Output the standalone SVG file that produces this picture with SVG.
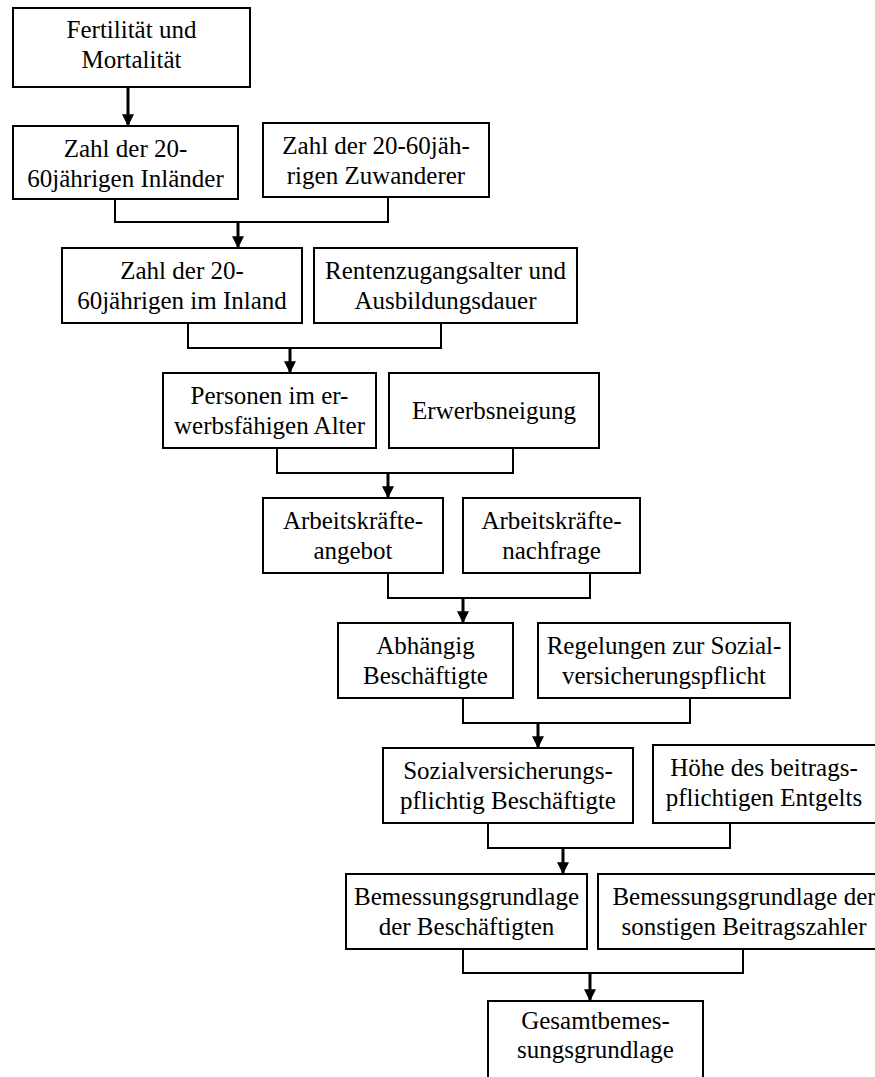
<svg xmlns="http://www.w3.org/2000/svg" width="875" height="1077" viewBox="0 0 875 1077">
<style>
.box{fill:#fff;stroke:#000;stroke-width:2}
text{font-family:'Liberation Serif','Times New Roman',Times,'DejaVu Serif',serif;font-size:25px;fill:#000;text-anchor:middle}
.c{fill:none;stroke:#000;stroke-width:2}
.a{fill:none;stroke:#000;stroke-width:3}
</style>
<defs>
<marker id="ah" markerWidth="4" markerHeight="4" refX="3.6" refY="2" orient="auto" markerUnits="strokeWidth">
<path d="M0,0 L4,2 L0,4 z" fill="#000"/>
</marker>
</defs>
<rect width="875" height="1077" fill="#fff"/>
<g id="connectors">
<path class="a" d="M128,87 V125" marker-end="url(#ah)"/>
<path class="c" d="M115,199 V222 H388 V197"/>
<path class="a" d="M238,222 V247" marker-end="url(#ah)"/>
<path class="c" d="M188,323 V348 H441 V323"/>
<path class="a" d="M290,348 V372" marker-end="url(#ah)"/>
<path class="c" d="M277,448 V473 H513 V448"/>
<path class="a" d="M388,473 V497" marker-end="url(#ah)"/>
<path class="c" d="M388,573 V598 H590 V573"/>
<path class="a" d="M463,598 V622" marker-end="url(#ah)"/>
<path class="c" d="M463,698 V723 H690 V698"/>
<path class="a" d="M538,723 V747" marker-end="url(#ah)"/>
<path class="c" d="M488,823 V848 H730 V823"/>
<path class="a" d="M563,848 V873" marker-end="url(#ah)"/>
<path class="c" d="M463,948 V973 H743 V948"/>
<path class="a" d="M590,973 V1000" marker-end="url(#ah)"/>
</g>
<g id="n1"><rect class="box" x="13" y="8" width="237" height="79"/><text x="131.5" y="38">Fertilität und</text><text x="131.5" y="68">Mortalität</text></g>
<g id="n2"><rect class="box" x="13" y="126" width="225" height="73"/><text x="125.5" y="157">Zahl der 20-</text><text x="125.5" y="187">60jährigen Inländer</text></g>
<g id="n3"><rect class="box" x="263" y="123" width="226" height="74"/><text x="376" y="154">Zahl der 20-60jäh-</text><text x="376" y="184">rigen Zuwanderer</text></g>
<g id="n4"><rect class="box" x="62" y="248" width="240" height="75"/><text x="182" y="279">Zahl der 20-</text><text x="182" y="309">60jährigen im Inland</text></g>
<g id="n5"><rect class="box" x="314" y="248" width="263" height="75"/><text x="445.5" y="279">Rentenzugangsalter und</text><text x="445.5" y="309">Ausbildungsdauer</text></g>
<g id="n6"><rect class="box" x="163" y="373" width="213" height="75"/><text x="269.5" y="404">Personen im er-</text><text x="269.5" y="434">werbsfähigen Alter</text></g>
<g id="n7"><rect class="box" x="389" y="373" width="210" height="75"/><text x="494" y="419">Erwerbsneigung</text></g>
<g id="n8"><rect class="box" x="263" y="498" width="180" height="75"/><text x="353" y="529">Arbeitskräfte-</text><text x="353" y="559">angebot</text></g>
<g id="n9"><rect class="box" x="463" y="498" width="177" height="75"/><text x="551.5" y="529">Arbeitskräfte-</text><text x="551.5" y="559">nachfrage</text></g>
<g id="n10"><rect class="box" x="338" y="623" width="175" height="75"/><text x="425.5" y="654">Abhängig</text><text x="425.5" y="684">Beschäftigte</text></g>
<g id="n11"><rect class="box" x="538" y="623" width="252" height="75"/><text x="664" y="654">Regelungen zur Sozial-</text><text x="664" y="684">versicherungspflicht</text></g>
<g id="n12"><rect class="box" x="383" y="748" width="250" height="75"/><text x="508" y="779">Sozialversicherungs-</text><text x="508" y="809">pflichtig Beschäftigte</text></g>
<g id="n13"><rect class="box" x="653" y="745" width="230" height="78"/><text x="764" y="776">Höhe des beitrags-</text><text x="764" y="806">pflichtigen Entgelts</text></g>
<g id="n14"><rect class="box" x="346" y="874" width="241" height="75"/><text x="466.5" y="905">Bemessungsgrundlage</text><text x="466.5" y="935">der Beschäftigten</text></g>
<g id="n15"><rect class="box" x="598" y="874" width="290" height="75"/><text x="744" y="905">Bemessungsgrundlage der</text><text x="744" y="935">sonstigen Beitragszahler</text></g>
<g id="n16"><rect class="box" x="488" y="1001" width="215" height="90"/><text x="595.5" y="1029">Gesamtbemes-</text><text x="595.5" y="1058">sungsgrundlage</text></g>
</svg>
